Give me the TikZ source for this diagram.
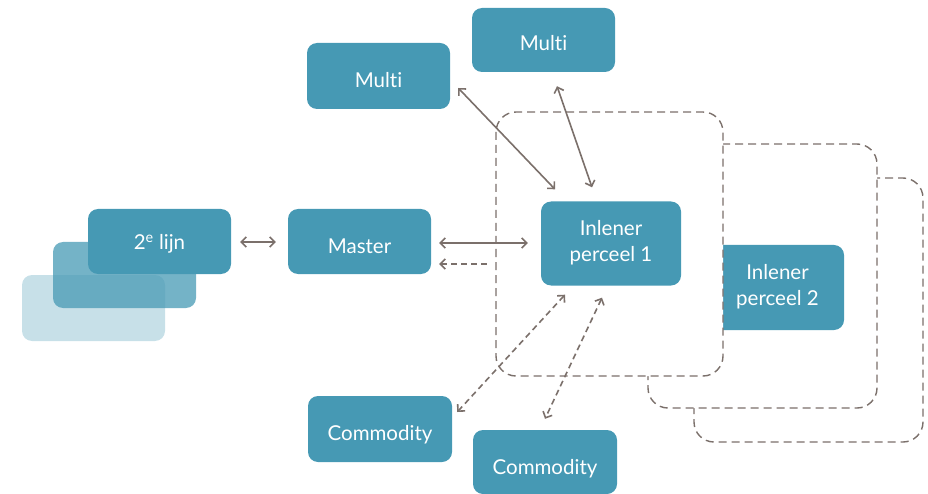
\documentclass[tikz,border=0pt]{standalone}
\usepackage{fontspec}
\setmainfont{Lato}[Ligatures={NoCommon}]
\usetikzlibrary{arrows.meta,calc}
\definecolor{teal}{HTML}{4699B4}
\definecolor{linkgray}{HTML}{7B706B}
\tikzset{
  box/.style={fill=teal, rounded corners=10pt, inner sep=0pt},
  lbl/.style={text=white, align=center, inner sep=0pt,
    font=\fontsize{20.5}{26}\selectfont},
  arr/.style={draw=linkgray, line width=1.6pt,
    {Straight Barb[length=5pt,width=10pt]}-{Straight Barb[length=5pt,width=10pt]}},
  darr/.style={arr, dash pattern=on 6pt off 4pt},
  larr/.style={draw=linkgray, line width=1.6pt, dash pattern=on 6pt off 4pt,
    {Straight Barb[length=5pt,width=10pt]}-},
  zone/.style={draw=linkgray, fill=white, line width=1.4pt,
    dash pattern=on 8pt off 5pt, rounded corners=20pt},
}
\begin{document}
\begin{tikzpicture}[x=1pt,y=-1pt]
\useasboundingbox (0,0) rectangle (928,494);

% stacked second-line layers
\fill[teal, opacity=0.3, rounded corners=10pt] (22,275) rectangle (165,341);
\fill[teal, opacity=0.75, rounded corners=10pt] (53,242) rectangle (196,308);
\node[box, minimum width=143pt, minimum height=65pt] (lijn) at (159.5,241.5) {};
\node[lbl, anchor=base] at ($(lijn)+(0,8.5)$) {2\textsuperscript{e} lijn};

\node[box, minimum width=143pt, minimum height=65pt] (master) at (359.5,241.5) {};
\node[lbl, anchor=base] at ($(master)+(0,11.5)$) {Master};

\node[box, minimum width=143pt, minimum height=66pt] (multiA) at (378.5,76) {};
\node[lbl, anchor=base] at ($(multiA)+(0,11.3)$) {Multi};

\node[box, minimum width=143pt, minimum height=64pt] (multiB) at (543.5,40) {};
\node[lbl, anchor=base] at ($(multiB)+(0,10.7)$) {Multi};

% parcel zones, back to front
\draw[zone] (694,178) rectangle (923,442);
\draw[zone] (648,144) rectangle (877,408);
\node[box, minimum width=133pt, minimum height=85pt] (inl2) at (777.5,287.5) {};
\node[lbl] at ($(inl2)+(0,-1)$) {Inlener\\perceel 2};
\draw[zone] (496,112) rectangle (723,376);
\coordinate (zoneW) at (490,264);

\node[box, minimum width=140pt, minimum height=84pt] (inl1) at (611,243.5) {};
\node[lbl] at ($(inl1)+(0,-1)$) {Inlener\\perceel 1};

\node[box, minimum width=144pt, minimum height=66pt] (com1) at (380,429) {};
\node[lbl, anchor=base] at ($(com1)+(0,11)$) {Commodity};

\node[box, minimum width=144pt, minimum height=64pt] (com2) at (545,462) {};
\node[lbl, anchor=base] at ($(com2)+(0,12)$) {Commodity};

% links
\draw[arr] ($(lijn.east)+(9,0.5)$) -- ($(master.west)+(-12,0.5)$);
\draw[arr] ($(master.east)+(8,1.5)$) -- ($(inl1.west)+(-13,-0.5)$);
\draw[larr] ($(master.east)+(8,22.5)$) -- (zoneW);
\draw[arr] ($(multiA.east)+(8,12)$) -- ($(inl1.north)+(-56,-12)$);
\draw[arr] ($(multiB.south)+(13.5,14)$) -- ($(inl1.north)+(-19,-14)$);
\draw[darr] ($(inl1.south)+(-46,9)$) -- ($(com1.east)+(5,-17)$);
\draw[darr] ($(inl1.south)+(-9,12)$) -- ($(com2.north)+(0,-11)$);
\end{tikzpicture}
\end{document}
